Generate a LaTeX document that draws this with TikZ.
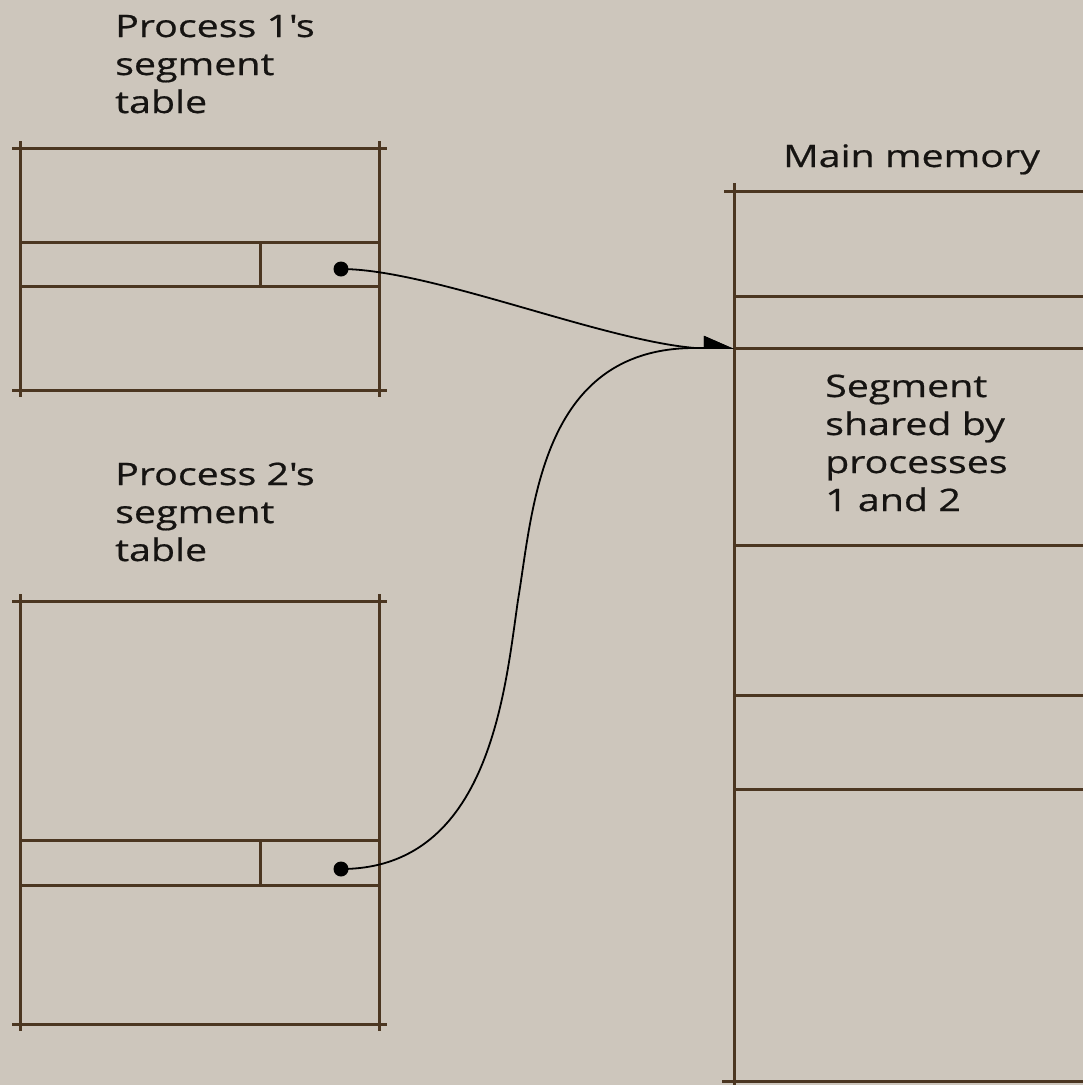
\documentclass[tikz,border=0pt]{standalone}
\usepackage{fontspec}
\setmainfont{Open Sans}[FakeStretch=1.27, FakeBold=0.6]
\usetikzlibrary{arrows.meta}
\definecolor{bg}{RGB}{205,198,188}
\definecolor{ln}{RGB}{75,54,33}
\definecolor{txt}{RGB}{22,20,18}
\begin{document}
\begin{tikzpicture}[x=1pt,y=-1pt,
  grid/.style={draw=ln, line width=3pt},
  lbl/.style={font=\fontsize{31}{38}\selectfont, text=txt, align=left, inner sep=0pt, anchor=base west},
  dot/.style={circle, fill=black, minimum size=15pt, inner sep=0pt},
  conn/.style={line width=1.8pt, draw=black, -{Triangle[harpoon, length=28pt, width=24pt]}}]
\fill[bg] (0,0) rectangle (1083,1085);
\useasboundingbox (0,0) rectangle (1083,1085);
% Process 1 table
\draw[grid] (12,148) -- (387,148);
\draw[grid] (20,242) -- (379,242);
\draw[grid] (20,286) -- (379,286);
\draw[grid] (12,390) -- (387,390);
\draw[grid] (20,141) -- (20,397);
\draw[grid] (379,141) -- (379,397);
\draw[grid] (260,242) -- (260,286);
% Process 2 table
\draw[grid] (12,601) -- (387,601);
\draw[grid] (20,840) -- (379,840);
\draw[grid] (20,885) -- (379,885);
\draw[grid] (12,1024) -- (387,1024);
\draw[grid] (20,594) -- (20,1031);
\draw[grid] (379,594) -- (379,1031);
\draw[grid] (260,840) -- (260,885);
% Main memory
\draw[grid] (724,191) -- (1083,191);
\draw[grid] (734,296) -- (1083,296);
\draw[grid] (734,348) -- (1083,348);
\draw[grid] (734,545) -- (1083,545);
\draw[grid] (734,695) -- (1083,695);
\draw[grid] (734,789) -- (1083,789);
\draw[grid] (722,1081) -- (1083,1081);
\draw[grid] (734,183) -- (734,1085);
% labels (base = baseline of last line)
\node[lbl] (l1) at (115,113) {Process 1\textquotesingle s\\segment\\table};
\node[lbl] (l2) at (115,561) {Process 2\textquotesingle s\\segment\\table};
\node[lbl] (lm) at (783,167) {Main memory};
\node[lbl] (ls) at (825,511) {Segment\\shared by\\processes\\1 and 2};
% pointers
\node[dot] (d1) at (341,269) {};
\node[dot] (d2) at (341,869) {};
\coordinate (m) at (734,348);
\draw[conn] (d1.center) .. controls (430,269) and (600,340) .. (695,348) -- (m);
\draw[conn] (d2.center) .. controls (490,869) and (505,690) .. (518,600) .. controls (533,510) and (540,350) .. (692,348) -- (m);
\end{tikzpicture}
\end{document}
